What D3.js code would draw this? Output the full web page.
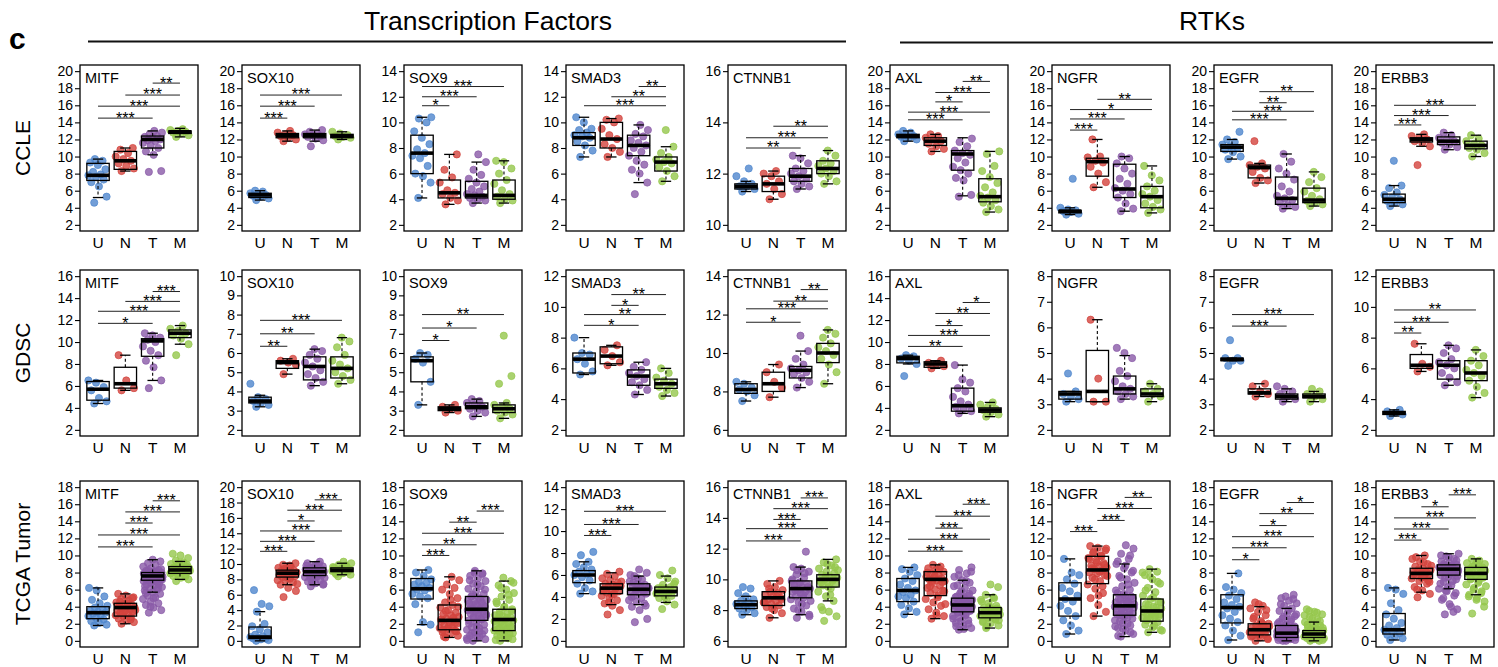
<!DOCTYPE html>
<html>
<head>
<meta charset="utf-8">
<script src="https://cdn.jsdelivr.net/npm/d3@7"></script>
<style>
body{margin:0;background:#fff;}
svg text{font-family:"Liberation Sans",Arial,Helvetica,sans-serif;fill:#000;}
</style>
</head>
<body>
<svg id="fig" width="1498" height="667"></svg>
<script>
///--------------
/// box + jitter panels, 3 datasets x 9 genes
///--------------

var rowNames=["CCLE","GDSC","TCGA Tumor"];
var genes=["MITF","SOX10","SOX9","SMAD3","CTNNB1","AXL","NGFR","EGFR","ERBB3"];
var groups=["U","N","T","M"];

// y tick range of each panel: [min,max,step]
var ticksCCLE=[[2,20,2],[2,20,2],[2,14,2],[2,14,2],[10,16,2],[2,20,2],[2,20,2],[2,20,2],[2,20,2]];
var ticksGDSC=[[2,16,2],[2,10,1],[2,10,1],[2,12,2],[6,14,2],[2,16,2],[2,8,1],[2,8,1],[2,12,2]];
var ticksTCGA=[[0,18,2],[0,20,2],[0,18,2],[0,14,2],[6,16,2],[0,18,2],[0,18,2],[0,18,2],[0,18,2]];

// box stats per gene, per group: [whisker lo, q1, median, q3, whisker hi]
var boxCCLE=[
 [[5.2,7.2,7.8,9.2,9.7],[8.3,8.5,9.5,10.6,11.0],[10.2,11.0,12.0,12.4,13.0],[12.3,12.7,12.9,13.0,13.3]],
 [[4.9,5.2,5.5,5.7,6.0],[11.8,12.2,12.5,12.7,13.0],[11.8,12.2,12.5,12.7,13.1],[12.0,12.2,12.4,12.6,12.9]],
 [[4.1,6.0,7.6,9.0,10.4],[3.6,4.1,4.5,5.5,7.5],[3.7,4.1,4.3,5.4,6.9],[3.7,4.0,4.3,5.5,7.0]],
 [[7.3,8.2,8.8,9.2,10.4],[7.3,8.0,8.7,10.0,10.3],[5.3,7.4,8.2,9.0,9.8],[5.4,6.2,6.9,7.3,8.1]],
 [[11.3,11.4,11.5,11.6,11.7],[11.0,11.3,11.6,11.9,12.1],[11.4,11.7,11.9,12.2,12.7],[11.6,12.0,12.2,12.5,12.9]],
 [[11.8,12.2,12.4,12.6,13.0],[10.6,11.3,11.8,12.2,12.6],[5.4,8.4,10.3,10.7,12.2],[3.5,4.7,5.3,7.4,10.6]],
 [[3.2,3.4,3.6,3.7,4.0],[6.4,7.7,9.4,9.8,12.0],[3.6,5.2,6.2,9.1,10.0],[3.4,4.0,5.3,6.5,8.9]],
 [[9.7,10.6,11.1,11.4,12.0],[6.9,7.5,8.7,9.0,9.2],[3.9,4.4,5.1,7.6,10.3],[4.2,4.6,4.9,6.3,8.2]],
 [[4.2,4.6,5.0,5.6,6.6],[11.2,11.7,12.0,12.2,12.6],[10.8,11.4,11.8,12.3,12.8],[10.0,10.9,11.3,11.8,12.5]]
];
var boxGDSC=[
 [[4.4,4.7,5.7,6.4,6.5],[5.6,5.8,6.2,7.7,8.8],[6.5,8.7,10.1,10.3,10.8],[9.8,10.4,10.8,11.1,11.5]],
 [[3.2,3.4,3.5,3.7,3.8],[4.9,5.2,5.5,5.6,5.7],[4.3,4.6,5.3,5.8,6.2],[4.4,4.7,5.2,5.8,6.8]],
 [[3.3,4.5,5.6,5.8,6.0],[2.9,3.0,3.1,3.2,3.3],[2.7,3.1,3.2,3.4,3.6],[2.6,2.9,3.1,3.3,3.4]],
 [[5.6,5.7,6.6,7.0,8.0],[6.2,6.3,6.8,7.4,7.5],[4.3,4.9,5.5,5.9,6.4],[4.2,4.7,5.0,5.3,6.0]],
 [[7.5,7.9,8.1,8.4,8.5],[7.7,8.0,8.4,9.0,9.4],[8.2,8.7,9.1,9.3,10.1],[8.4,9.5,10.0,10.5,11.2]],
 [[8.0,8.1,8.5,8.7,8.8],[7.6,7.7,8.0,8.2,8.3],[3.5,3.7,4.2,5.8,7.9],[3.2,3.6,3.8,4.0,4.5]],
 [[3.1,3.2,3.4,3.5,3.5],[3.1,3.1,3.5,5.1,6.3],[3.2,3.4,3.6,4.1,4.9],[3.1,3.3,3.4,3.6,3.8]],
 [[4.7,4.7,4.75,4.8,4.8],[3.3,3.4,3.45,3.6,3.8],[3.1,3.2,3.3,3.4,3.6],[3.1,3.25,3.3,3.4,3.5]],
 [[2.9,3.0,3.1,3.2,3.3],[5.8,6.0,6.2,6.9,7.6],[4.9,5.3,6.2,6.5,7.5],[4.1,5.2,5.7,6.5,7.2]]
];
var boxTCGA=[
 [[1.8,2.6,3.3,4.0,6.2],[2.0,2.9,3.9,4.4,5.5],[5.7,7.1,7.6,8.0,9.5],[7.2,7.9,8.3,8.7,9.3]],
 [[0.0,0.3,0.5,1.8,3.8],[7.3,8.3,8.8,9.2,10.1],[7.3,8.5,9.0,9.5,10.3],[8.6,9.0,9.2,9.5,10.1]],
 [[1.9,4.9,6.1,7.3,8.3],[0.4,1.3,2.4,4.2,7.5],[0.0,2.4,3.7,5.2,8.2],[0.0,1.2,2.5,3.7,7.0]],
 [[4.3,5.3,6.0,6.4,7.2],[3.3,4.3,4.8,5.2,6.2],[3.3,4.2,4.7,5.2,5.9],[3.5,4.1,4.5,4.9,5.9]],
 [[7.7,8.1,8.35,8.6,8.9],[7.5,8.3,8.8,9.2,9.9],[7.7,8.8,9.4,9.9,10.8],[8.6,9.5,10.0,10.3,11.3]],
 [[3.1,4.6,5.9,7.3,8.6],[2.6,5.3,7.2,8.1,8.9],[1.3,3.4,4.2,5.0,7.1],[1.5,2.7,3.3,3.9,5.4]],
 [[0.8,2.9,4.9,6.8,9.6],[2.9,6.7,8.3,9.9,11.1],[0.5,3.0,4.1,5.4,9.0],[1.0,2.3,3.5,4.9,8.4]],
 [[0.1,2.1,3.9,5.4,7.9],[0.0,0.7,1.3,2.0,4.0],[0.0,0.4,0.9,1.8,3.8],[0.0,0.4,0.8,1.2,2.2]],
 [[0.1,0.8,1.3,3.2,6.2],[5.7,7.3,7.9,8.5,10.0],[6.1,7.7,8.4,8.9,10.2],[5.4,7.2,7.9,8.6,9.6]]
];

// sample values per gene, per group (U,N,T,M)
var ptsCCLE=[
 ["4.6 5.3 6.5 7.0 7.3 7.6 7.8 7.9 8.2 8.5 9.0 9.3 9.5 9.7","8.3 8.6 8.9 9.2 9.5 9.7 10.0 10.4 10.8 11.0","8.2 8.3 10.2 10.6 11.0 11.3 11.6 11.8 11.9 12.0 12.2 12.3 12.4 12.6 12.8 13.0","12.3 12.5 12.7 12.8 12.9 13.0 13.1 13.2"],
 ["4.9 5.1 5.3 5.4 5.5 5.6 5.7 5.9 6.0","11.8 12.0 12.2 12.4 12.5 12.6 12.8 13.0","11.2 11.9 12.1 12.3 12.4 12.5 12.6 12.7 12.9 13.1","12.0 12.2 12.3 12.4 12.5 12.7 12.9"],
 ["4.1 5.3 5.8 6.0 6.6 7.2 7.4 7.6 7.9 8.3 8.8 9.3 10.0 10.3 10.4","3.6 3.9 4.1 4.4 4.5 4.7 5.3 5.7 6.3 7.5","3.7 3.9 4.0 4.1 4.2 4.3 4.4 4.6 4.8 5.0 5.3 5.6 5.9 6.3 6.9 7.5","3.7 3.9 4.0 4.2 4.4 4.7 5.2 5.5 6.0 6.4 6.9 7.0"],
 ["7.3 7.8 8.2 8.5 8.8 8.9 9.0 9.2 9.4 9.5 10.0 10.4","7.3 7.7 8.0 8.3 8.7 9.0 9.5 10.0 10.2 10.3","4.4 5.3 6.0 6.3 6.7 7.0 7.4 7.7 8.0 8.2 8.4 8.6 8.9 9.1 9.4 9.8","5.4 5.8 6.2 6.5 6.8 6.9 7.1 7.3 7.6 8.1 9.4"],
 ["11.3 11.4 11.5 11.5 11.6 11.7 11.9 12.2","11.0 11.2 11.4 11.6 11.7 11.9 12.0 12.1","11.4 11.5 11.6 11.7 11.8 11.9 12.0 12.1 12.2 12.4 12.6 12.7","11.6 11.7 11.9 12.0 12.1 12.2 12.3 12.4 12.5 12.7 12.9"],
 ["11.8 12.0 12.2 12.3 12.4 12.5 12.6 12.8 13.0","10.6 10.9 11.2 11.5 11.8 12.0 12.2 12.4 12.6","5.3 5.5 7.2 7.5 8.0 8.4 8.8 9.3 9.8 10.2 10.4 10.7 11.2 11.7 12.1","3.5 3.8 4.2 4.6 4.9 5.2 5.4 5.8 6.4 6.9 7.6 8.3 8.9 10.3 10.6"],
 ["3.2 3.3 3.5 3.6 3.7 3.8 4.0 7.4","6.4 7.0 8.0 8.8 9.3 9.5 9.9 10.0 12.0","3.6 3.9 4.5 5.2 5.6 6.0 6.3 6.8 7.4 8.0 8.6 9.2 9.8 10.0","3.4 3.8 4.1 4.5 4.9 5.3 5.6 6.0 6.5 7.2 7.8 8.9"],
 ["9.7 10.0 10.5 10.8 11.0 11.2 11.4 11.7 12.0 12.9","6.9 7.2 7.5 8.2 8.6 8.8 9.0 9.2 11.8","3.9 4.1 4.3 4.6 4.9 5.1 5.4 5.9 6.5 7.3 8.0 8.6 9.4 10.3","4.2 4.4 4.6 4.8 5.0 5.4 5.9 6.3 7.0 7.6 8.2"],
 ["4.2 4.4 4.6 4.8 5.0 5.2 5.5 5.8 6.3 6.6 9.5","9.0 11.2 11.6 11.8 12.0 12.2 12.4 12.6","10.8 11.1 11.4 11.6 11.8 12.0 12.2 12.5 12.8","10.0 10.4 10.8 11.0 11.3 11.5 11.8 12.1 12.5"]
];
var ptsGDSC=[
 ["4.4 4.6 4.9 5.6 5.9 6.3 6.5","5.6 5.8 6.5 8.8","5.8 6.5 7.7 8.3 8.8 9.2 9.6 10.0 10.2 10.4 10.6 10.8","8.8 9.8 10.3 10.6 10.8 11.0 11.2 11.5"],
 ["3.2 3.3 3.4 3.5 3.6 3.7 4.4","4.9 5.4 5.5 5.6 5.7","4.3 4.5 4.7 4.9 5.1 5.3 5.5 5.7 5.9 6.1 6.2","4.4 4.6 4.8 5.0 5.2 5.4 5.6 5.9 6.3 6.6 6.8"],
 ["3.3 4.5 5.5 5.7 5.9 6.0","2.9 3.0 3.1 3.2 3.3","2.7 2.9 3.0 3.1 3.2 3.3 3.4 3.5 3.6","2.6 2.8 2.9 3.0 3.1 3.2 3.3 3.4 4.4 4.8 6.9"],
 ["5.6 5.8 6.3 6.6 6.9 7.0 8.0","6.2 6.4 6.8 7.2 7.5","4.3 4.6 4.9 5.1 5.3 5.5 5.7 5.9 6.1 6.4","4.2 4.4 4.6 4.8 5.0 5.2 5.4 5.7 6.0"],
 ["7.5 7.8 8.0 8.1 8.2 8.4 8.5","7.7 8.2 8.5 9.0 9.4","8.2 8.5 8.7 8.9 9.0 9.1 9.2 9.4 9.7 10.1 10.9","8.4 9.0 9.4 9.7 9.9 10.1 10.3 10.5 10.8 11.0 11.2"],
 ["6.9 8.0 8.3 8.5 8.7 8.8","7.6 7.8 8.0 8.1 8.3","3.5 3.7 3.9 4.1 4.3 4.6 5.0 5.5 5.8 6.3 6.6 7.9","3.2 3.4 3.6 3.8 3.9 4.1 4.3 4.5"],
 ["3.1 3.2 3.3 3.4 3.5 4.2","3.1 3.1 4.0 6.3","3.2 3.3 3.4 3.5 3.6 3.7 3.9 4.1 4.3 4.8 5.0 5.2","3.1 3.3 3.4 3.5 3.6 3.8"],
 ["4.5 4.7 4.7 4.8 4.8 5.5","3.3 3.4 3.5 3.7 3.8","3.1 3.2 3.3 3.4 3.5 3.6 3.7","3.1 3.2 3.3 3.4 3.5 3.6"],
 ["2.9 3.0 3.1 3.2 3.3","5.8 6.1 6.3 7.6","4.9 5.1 5.4 5.7 6.0 6.2 6.4 6.6 7.0 7.3 7.5","4.1 4.4 4.8 5.2 5.5 5.7 5.9 6.2 6.5 6.8 7.2"]
];
var ptsTCGA=[
 ["1.8 1.9 2.1 2.3 2.5 2.7 2.9 3.0 3.2 3.3 3.4 3.5 3.7 3.9 4.1 4.4 4.8 5.2 5.9 6.2",
  "2.0 2.2 2.4 2.6 2.8 2.9 3.0 3.1 3.3 3.4 3.5 3.6 3.7 3.8 3.9 4.0 4.1 4.2 4.3 4.5 4.7 4.9 5.1 5.3 5.5 2.5 3.2 3.6 4.4 4.6 5.0",
  "3.3 3.6 3.9 4.2 4.4 4.6 4.9 5.1 5.3 5.5 5.7 5.9 6.0 6.1 6.3 6.5 6.6 6.7 6.8 7.0 7.0 7.1 7.2 7.3 7.3 7.4 7.5 7.5 7.6 7.6 7.7 7.8 7.8 7.9 8.0 8.0 8.1 8.2 8.3 8.5 8.7 8.9 9.1 9.3 9.5 6.4 6.9 7.1 7.2 7.4 7.5 7.7 7.8 7.9 8.1 8.2 8.4 5.0 5.6 6.2 4.0",
  "7.0 7.2 7.4 7.6 7.7 7.8 7.9 8.0 8.1 8.1 8.2 8.3 8.3 8.4 8.5 8.6 8.6 8.7 8.8 9.0 9.2 9.4 9.7 10.0 10.2 7.5 7.9 8.2 8.4 8.5 8.9 9.1 8.0"],
 ["0.0 0.1 0.2 0.3 0.3 0.4 0.5 0.6 0.8 1.1 1.5 1.9 2.2 3.8 4.5 4.8 6.6",
  "5.7 6.5 6.9 7.3 7.6 7.8 7.9 8.1 8.3 8.4 8.5 8.6 8.7 8.8 8.9 9.0 9.1 9.2 9.3 9.5 9.7 9.9 10.1 8.2 8.6 8.9 9.4 7.4 9.8",
  "7.1 7.3 7.5 7.7 7.9 8.1 8.3 8.4 8.5 8.6 8.7 8.8 8.8 8.9 9.0 9.0 9.1 9.2 9.2 9.3 9.4 9.5 9.7 9.9 10.1 10.3 7.6 8.2 8.6 9.1 9.3 9.6 9.8 10.0 8.0 7.4",
  "8.4 8.6 8.8 8.9 9.0 9.0 9.1 9.2 9.2 9.3 9.4 9.5 9.7 9.9 10.1 10.3 8.7 9.1 9.3 9.6 9.8"],
 ["1.0 1.9 2.2 4.3 5.0 5.2 5.5 5.9 6.0 6.2 6.4 6.6 6.8 6.9 7.2 7.6 8.0 8.3",
  "0.4 0.6 0.8 1.0 1.2 1.4 1.5 1.6 1.8 2.0 2.2 2.3 2.4 2.6 2.8 3.0 3.1 3.3 3.6 3.9 4.2 4.5 5.0 5.5 6.0 6.2 6.6 7.1 7.5 0.5 1.1 1.7 2.5 2.7 3.5 4.0 4.8 1.3 2.1",
  "0.0 0.2 0.4 0.6 0.8 1.0 1.3 1.5 1.6 1.9 2.2 2.4 2.6 2.8 2.9 3.0 3.2 3.4 3.5 3.6 3.7 3.8 4.0 4.2 4.4 4.5 4.6 4.8 5.0 5.2 5.5 5.8 6.1 6.4 6.7 7.0 7.3 7.6 7.9 8.2 0.1 0.5 0.9 1.2 1.7 2.0 2.5 2.7 3.1 3.3 3.9 4.1 4.3 4.7 4.9 5.4 6.0 6.6 7.1 7.8 8.0 0.3 1.1 3.6",
  "0.0 0.2 0.4 0.6 0.8 1.0 1.2 1.4 1.5 1.6 1.8 2.0 2.1 2.2 2.4 2.5 2.6 2.8 2.9 3.0 3.2 3.4 3.7 4.0 4.4 4.8 5.2 5.6 6.0 6.5 7.0 7.4 0.1 0.3 0.7 0.9 1.1 1.3 1.7 1.9 2.3 2.7 3.1 3.5 3.9 4.6 5.4 6.2 6.8 0.5"],
 ["4.3 4.5 4.8 5.2 5.5 5.8 6.0 6.1 6.3 6.5 6.7 7.0 7.2 7.8 8.1",
  "2.4 2.8 3.2 3.4 3.7 3.9 4.1 4.3 4.4 4.5 4.6 4.7 4.8 4.9 5.0 5.1 5.2 5.3 5.5 5.7 5.9 6.1 6.3 4.2 4.6 5.0 3.5 5.4",
  "1.7 2.0 2.8 3.1 3.4 3.6 3.7 3.9 4.1 4.3 4.4 4.5 4.6 4.7 4.8 4.9 5.0 5.1 5.2 5.4 5.6 5.9 6.2 6.5 4.0 4.4 4.6 4.8 5.0 5.3 3.2 5.7 6.0",
  "2.9 3.3 3.6 3.9 4.1 4.2 4.3 4.4 4.5 4.6 4.7 4.8 4.9 5.1 5.4 5.7 6.0 6.4 4.0 4.4 4.6 4.8 5.2"],
 ["7.7 7.8 8.0 8.1 8.2 8.3 8.4 8.5 8.6 8.7 8.9 9.1 9.4 9.5",
  "7.5 7.8 8.0 8.2 8.3 8.4 8.5 8.6 8.7 8.8 8.9 9.0 9.1 9.2 9.3 9.5 9.7 9.9 8.1 8.5 8.9 9.4 8.7",
  "7.5 7.7 7.9 8.1 8.3 8.5 8.7 8.8 8.9 9.0 9.1 9.2 9.2 9.3 9.4 9.5 9.6 9.7 9.8 9.9 10.1 10.3 10.5 10.7 10.8 11.8 8.0 8.6 9.0 9.3 9.5 9.8 10.0 10.4 10.6 7.6 8.4 9.6",
  "7.3 7.6 7.9 8.2 8.6 8.9 9.2 9.4 9.6 9.7 9.8 9.9 9.9 10.0 10.1 10.2 10.3 10.4 10.5 10.7 10.9 11.1 11.3 9.5 9.8 10.0 10.2 10.6 9.0 8.0 10.8 11.0"],
 ["3.1 3.4 3.8 4.2 4.6 5.0 5.2 5.4 5.7 5.9 6.2 6.6 7.0 7.3 7.7 8.1 8.4 8.6",
  "2.6 2.9 3.3 3.7 4.1 4.5 4.9 5.3 5.6 5.9 6.0 6.2 6.5 6.8 7.0 7.1 7.2 7.3 7.4 7.5 7.7 7.9 8.1 8.3 8.5 8.7 8.9 4.3 5.1 6.4 6.9 7.6 8.0 8.4 7.0 5.8 3.0",
  "1.3 1.5 1.8 2.1 2.4 2.7 2.9 3.1 3.3 3.5 3.6 3.7 3.8 3.9 4.0 4.0 4.1 4.2 4.3 4.4 4.5 4.6 4.7 4.9 5.1 5.3 5.6 5.9 6.2 6.5 6.8 7.1 7.5 7.9 8.3 8.6 1.4 1.7 2.0 2.3 2.6 3.0 3.4 3.6 3.8 4.1 4.3 4.6 4.8 5.0 5.2 5.5 5.8 6.4 7.0 7.7 8.1 3.2 4.2 4.4",
  "1.5 1.8 2.1 2.3 2.5 2.7 2.9 3.0 3.0 3.1 3.2 3.3 3.4 3.5 3.6 3.7 3.9 4.1 4.4 4.8 5.1 5.4 6.3 6.6 2.2 2.6 2.8 3.1 3.3 3.4 3.8 4.0 4.6 5.0 1.7 2.4"],
 ["0.8 1.2 1.8 2.4 2.9 3.5 4.1 4.6 4.9 5.3 5.8 6.2 6.7 7.2 7.7 8.0 9.6",
  "2.9 3.4 4.2 5.0 5.6 6.1 6.6 7.0 7.4 7.7 7.9 8.0 8.2 8.4 8.6 8.7 8.8 9.1 9.4 9.7 10.0 10.3 10.6 10.9 11.1 6.4 7.2 7.6 8.1 8.5 8.9 9.2 9.6 9.9 10.4 10.8 5.3",
  "0.5 0.8 1.2 1.5 1.8 2.1 2.4 2.7 3.0 3.2 3.4 3.5 3.6 3.8 3.9 4.0 4.1 4.2 4.4 4.5 4.6 4.8 5.0 5.3 5.6 6.0 6.4 6.8 7.2 7.6 8.0 8.5 9.0 9.6 10.2 10.8 11.2 0.6 1.0 1.4 1.7 2.0 2.3 2.6 2.9 3.1 3.3 3.7 4.3 4.7 4.9 5.2 5.5 5.9 6.6 7.4 8.2 8.8 9.3 10.0 3.0 4.0 4.4",
  "1.0 1.3 1.6 1.9 2.2 2.5 2.7 2.8 3.0 3.1 3.2 3.4 3.5 3.6 3.8 4.0 4.3 4.6 4.9 5.3 5.7 6.2 6.7 7.2 7.7 8.1 8.4 1.2 1.8 2.4 2.9 3.3 3.7 3.9 4.2 4.5 5.1 5.9 6.9 7.5 8.0 3.0 2.6"],
 ["0.1 0.6 1.2 1.8 2.2 2.6 3.0 3.4 3.8 4.0 4.2 4.5 4.9 5.3 5.6 6.0 6.3 7.9",
  "0.0 0.2 0.4 0.6 0.8 0.9 1.0 1.1 1.2 1.3 1.4 1.5 1.6 1.8 2.0 2.3 2.6 3.0 3.4 3.8 4.1 4.5 0.3 0.7 1.0 1.3 1.5 1.7 2.1 2.8 3.6 4.3 0.5 1.9",
  "0.0 0.1 0.2 0.3 0.4 0.5 0.6 0.6 0.7 0.8 0.9 0.9 1.0 1.1 1.2 1.3 1.4 1.6 1.8 2.0 2.3 2.6 2.9 3.2 3.5 3.8 4.1 4.4 4.7 5.0 5.4 0.0 0.1 0.2 0.3 0.4 0.5 0.7 0.8 1.0 1.1 1.3 1.5 1.7 1.9 2.2 2.5 2.8 3.1 3.6 4.3 4.9 5.2 0.4 0.9 1.4",
  "0.0 0.1 0.2 0.3 0.4 0.5 0.5 0.6 0.7 0.7 0.8 0.9 1.0 1.1 1.2 1.4 1.6 1.8 2.0 2.2 2.5 2.8 3.1 3.4 3.7 0.0 0.2 0.3 0.4 0.6 0.8 0.9 1.0 1.2 1.3 1.5 1.7 1.9 2.3 2.6 3.0 3.3 3.5 0.6 0.8"],
 ["0.1 0.3 0.5 0.7 0.9 1.1 1.3 1.5 1.8 2.1 2.6 3.1 3.6 4.4 5.5 6.0 6.2",
  "5.1 5.5 5.9 6.3 6.7 7.0 7.3 7.5 7.7 7.8 7.9 8.0 8.1 8.2 8.3 8.5 8.7 9.0 9.3 9.6 10.0 6.0 6.9 7.4 7.8 8.0 8.4 8.8 9.2 9.8 7.1",
  "3.1 3.7 4.3 4.8 5.3 5.8 6.1 6.5 6.9 7.2 7.5 7.7 7.9 8.0 8.1 8.2 8.3 8.4 8.5 8.6 8.7 8.8 8.9 9.1 9.3 9.6 9.9 10.2 4.0 5.0 5.6 6.3 6.7 7.0 7.4 7.6 7.8 8.0 8.2 8.4 8.6 8.8 9.0 9.4 9.8 10.0 3.4 5.9 8.3 8.5",
  "3.2 4.6 5.0 5.4 5.8 6.2 6.6 7.0 7.3 7.5 7.6 7.8 7.9 8.0 8.2 8.3 8.4 8.6 8.8 9.1 9.4 9.6 4.0 4.8 5.2 5.6 6.0 6.4 6.8 7.2 7.4 7.7 8.1 8.5 8.7 9.0 9.3 7.9 8.0"]
];

// significance bars: [group a, group b, height, label]
var sigCCLE=[
 [[0,2,14.5,"***"],[0,3,15.9,"***"],[1,3,17.2,"***"],[2,3,18.6,"**"]],
 [[0,1,14.5,"***"],[0,2,15.9,"***"],[0,3,17.2,"***"]],
 [[0,1,11.3,"*"],[0,2,12.0,"***"],[0,3,12.8,"***"]],
 [[0,3,11.3,"***"],[1,3,12.0,"**"],[2,3,12.8,"**"]],
 [[0,2,13.0,"**"],[0,3,13.4,"***"],[1,3,13.85,"**"]],
 [[0,2,14.3,"***"],[0,3,15.2,"***"],[1,2,16.4,"*"],[1,3,17.5,"***"],[2,3,18.8,"**"]],
 [[0,1,13.1,"***"],[0,2,14.4,"***"],[0,3,15.5,"*"],[1,3,16.7,"**"]],
 [[0,2,14.3,"***"],[0,3,15.3,"***"],[1,2,16.3,"**"],[1,3,17.6,"**"]],
 [[0,1,13.7,"***"],[0,2,14.8,"***"],[0,3,16.0,"***"]]
];
var sigGDSC=[
 [[0,2,11.7,"*"],[0,3,12.8,"***"],[1,3,13.7,"***"],[2,3,14.6,"***"]],
 [[0,1,6.35,"**"],[0,2,7.0,"**"],[0,3,7.7,"***"]],
 [[0,1,6.65,"*"],[0,2,7.3,"*"],[0,3,8.0,"**"]],
 [[0,2,8.8,"*"],[0,3,9.5,"**"],[1,2,10.1,"*"],[1,3,10.8,"**"]],
 [[0,2,11.6,"*"],[0,3,12.3,"***"],[1,3,12.7,"**"],[2,3,13.3,"**"]],
 [[0,2,9.6,"**"],[0,3,10.6,"***"],[1,2,11.5,"*"],[1,3,12.6,"**"],[2,3,13.6,"*"]],
 [],
 [[0,2,6.05,"***"],[0,3,6.5,"***"]],
 [[0,1,8.3,"**"],[0,2,9.0,"***"],[0,3,9.8,"**"]]
];
var sigTCGA=[
 [[0,2,11.0,"***"],[0,3,12.4,"***"],[1,2,13.8,"***"],[1,3,15.1,"***"],[2,3,16.4,"***"]],
 [[0,1,11.65,"***"],[0,2,12.95,"***"],[0,3,14.3,"***"],[1,2,15.6,"*"],[1,3,17.0,"***"],[2,3,18.35,"***"]],
 [[0,1,10.0,"***"],[0,2,11.25,"**"],[0,3,12.6,"***"],[1,2,13.9,"**"],[2,3,15.2,"***"]],
 [[0,1,9.6,"***"],[0,2,10.6,"***"],[0,3,11.8,"***"]],
 [[0,2,12.5,"***"],[0,3,13.3,"***"],[1,2,13.9,"***"],[1,3,14.6,"***"],[2,3,15.3,"***"]],
 [[0,2,10.5,"***"],[0,3,11.9,"***"],[1,2,13.2,"***"],[1,3,14.6,"***"],[2,3,16.0,"***"]],
 [[0,1,12.8,"***"],[1,2,14.1,"***"],[1,3,15.5,"***"],[2,3,16.8,"**"]],
 [[0,1,9.5,"*"],[0,2,10.9,"***"],[0,3,12.2,"***"],[1,2,13.5,"*"],[1,3,14.9,"**"],[2,3,16.2,"*"]],
 [[0,1,11.8,"***"],[0,2,13.1,"***"],[0,3,14.4,"***"],[1,2,15.7,"*"],[2,3,17.1,"***"]]
];

//layout
var svg=d3.select("#fig");
var panelW=118, panelH=166, pitchX=162;
var rowTop=[65,270,481];
var colLeft=d3.range(genes.length).map(function(k){ return 80+pitchX*k; });
var groupColor=["#4f86cd","#d3433d","#8a5aa7","#95c74c"];
var boxW=0.82, capW=0.38, jitterW=20;

var rowData=[
	{ticks:ticksCCLE, box:boxCCLE, pts:ptsCCLE, sig:sigCCLE},
	{ticks:ticksGDSC, box:boxGDSC, pts:ptsGDSC, sig:sigGDSC},
	{ticks:ticksTCGA, box:boxTCGA, pts:ptsTCGA, sig:sigTCGA}
];

//header
svg.append("text").attr("x",9).attr("y",49).attr("font-size",30).attr("font-weight","bold").text("c");
svg.append("text").attr("x",488).attr("y",30).attr("font-size",26.5).attr("text-anchor","middle").text("Transcription Factors");
svg.append("text").attr("x",1212).attr("y",30).attr("font-size",26.5).attr("text-anchor","middle").text("RTKs");
svg.append("line").attr("x1",88).attr("x2",846).attr("y1",41.5).attr("y2",41.5).style("stroke","#111").style("stroke-width",2.2);
svg.append("line").attr("x1",900).attr("x2",1493).attr("y1",42.5).attr("y2",42.5).style("stroke","#111").style("stroke-width",2.2);

rowNames.forEach(function(name,r){
	svg.append("text")
	.attr("transform","translate(30,"+(rowTop[r]+panelH/2)+") rotate(-90)")
	.attr("text-anchor","middle")
	.attr("font-size",21)
	.text(name);
});

rowData.forEach(function(row,r){
	genes.forEach(function(gene,c){
		drawPanel(colLeft[c],rowTop[r],gene,row.ticks[c],row.box[c],row.pts[c],row.sig[c]);
	});
});

function drawPanel(left,top,gene,tk,box,pts,sig){
	var ext=(tk[1]-tk[0])*0.04;
	var y=d3.scaleLinear().domain([tk[0]-ext,tk[1]+ext]).range([top+panelH,top]);
	var x=d3.scaleLinear().domain([0.34,4.66]).range([left,left+panelW]);
	var unit=x(2)-x(1);
	var g=svg.append("g");

	var ax=g.append("g")
	.attr("transform","translate("+left+",0)")
	.call(d3.axisLeft(y).tickValues(d3.range(tk[0],tk[1]+tk[2]/2,tk[2])).tickSize(5).tickPadding(2).tickFormat(d3.format("d")));
	ax.select(".domain").remove();
	ax.attr("font-family",null).attr("font-size",14);
	ax.selectAll("line").style("stroke","#000").style("stroke-width",1.1);
	ax.selectAll("text").attr("fill","#000");

	//x labels
	g.selectAll(".xl")
	.data(groups)
	.enter().append("text")
	.attr("x",function(d,i){ return x(i+1); })
	.attr("y",top+panelH+16.5)
	.attr("text-anchor","middle")
	.attr("font-size",15.5)
	.text(function(d){ return d; });

	//points
	pts.forEach(function(s,i){
		var vals=s.split(" ").map(Number);
		g.selectAll(null)
		.data(vals)
		.enter().append("circle")
		.attr("cx",function(d,j){ return x(i+1)+(((j*0.618034+0.31)%1)-0.5)*jitterW; })
		.attr("cy",function(d){ return y(d); })
		.attr("r",3.6)
		.style("fill",groupColor[i])
		.style("fill-opacity",0.8)
		.style("stroke",groupColor[i])
		.style("stroke-width",0.7);
	});

	//boxes
	box.forEach(function(b,i){
		var cx=x(i+1), bg=g.append("g");
		bg.append("line").attr("x1",cx).attr("x2",cx).attr("y1",y(b[1])).attr("y2",y(b[0]))
		.style("stroke","#000").style("stroke-width",1.1).style("stroke-dasharray","3,2.5");
		bg.append("line").attr("x1",cx).attr("x2",cx).attr("y1",y(b[3])).attr("y2",y(b[4]))
		.style("stroke","#000").style("stroke-width",1.1).style("stroke-dasharray","3,2.5");
		[b[0],b[4]].forEach(function(v){
			bg.append("line").attr("x1",cx-capW*unit/2).attr("x2",cx+capW*unit/2).attr("y1",y(v)).attr("y2",y(v))
			.style("stroke","#000").style("stroke-width",1.3);
		});
		bg.append("rect")
		.attr("x",cx-boxW*unit/2).attr("width",boxW*unit)
		.attr("y",y(b[3])).attr("height",Math.max(0.5,y(b[1])-y(b[3])))
		.style("fill","none").style("stroke","#000").style("stroke-width",1.3);
		bg.append("line").attr("x1",cx-boxW*unit/2).attr("x2",cx+boxW*unit/2).attr("y1",y(b[2])).attr("y2",y(b[2]))
		.style("stroke","#000").style("stroke-width",3.6);
	});

	//significance bars
	sig.forEach(function(s){
		var yy=y(s[2]);
		g.append("line").attr("x1",x(s[0]+1)).attr("x2",x(s[1]+1)).attr("y1",yy).attr("y2",yy)
		.style("stroke","#222").style("stroke-width",1);
		g.append("text").attr("x",(x(s[0]+1)+x(s[1]+1))/2).attr("y",yy+5.4)
		.attr("text-anchor","middle").attr("font-size",16).text(s[3]);
	});

	//frame + gene name
	g.append("rect").attr("x",left).attr("y",top).attr("width",panelW).attr("height",panelH)
	.style("fill","none").style("stroke","#000").style("stroke-width",1.3);
	g.append("text").attr("x",left+5).attr("y",top+18).attr("font-size",14.5).text(gene);
}
</script>
</body>
</html>
